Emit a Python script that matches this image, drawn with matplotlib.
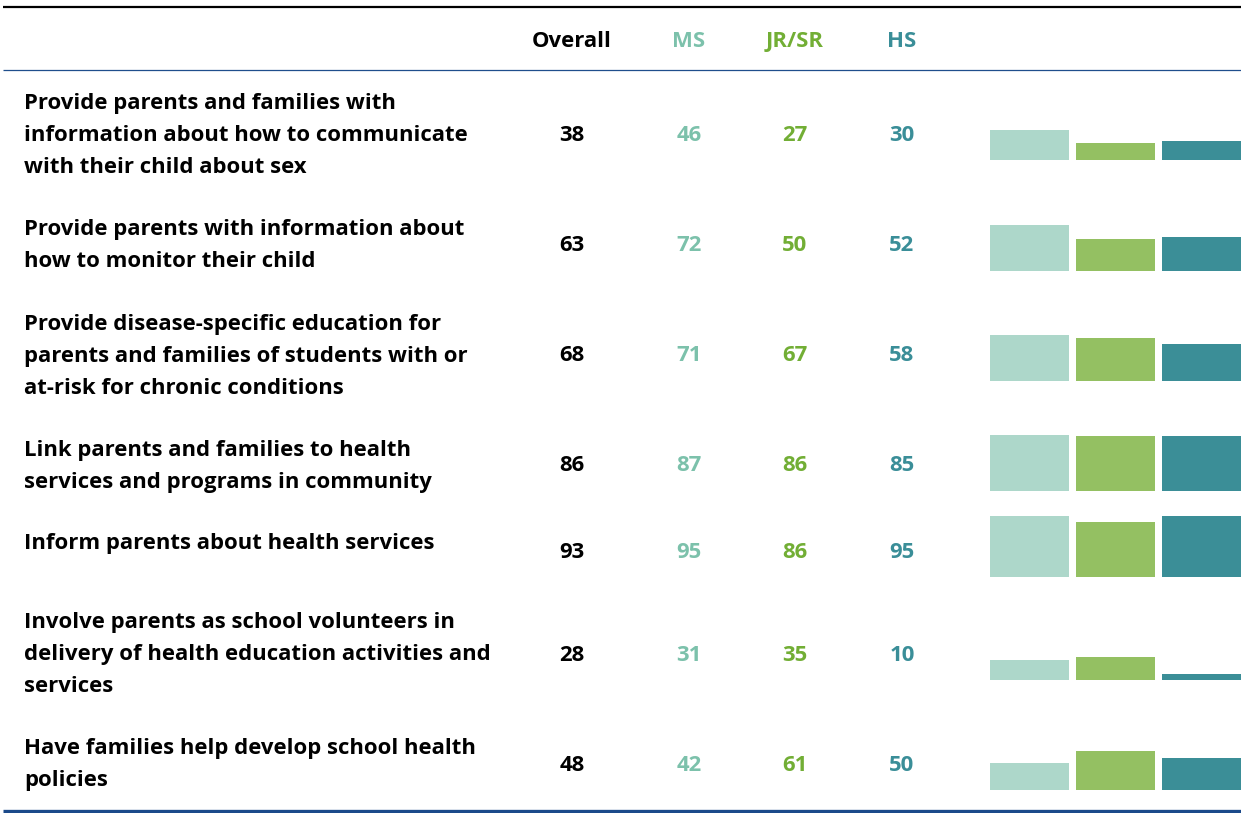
import matplotlib
matplotlib.use("Agg")
import matplotlib.pyplot as plt
import numpy as np

# row labels (one list of lines per row)
labels = [
    ["Provide parents and families with", "information about how to communicate", "with their child about sex"],
    ["Provide parents with information about", "how to monitor their child"],
    ["Provide disease-specific education for", "parents and families of students with or", "at-risk for chronic conditions"],
    ["Link parents and families to health", "services and programs in community"],
    ["Inform parents about health services"],
    ["Involve parents as school volunteers in", "delivery of health education activities and", "services"],
    ["Have families help develop school health", "policies"],
]
columns = ["Overall", "MS", "JR/SR", "HS"]
overall = [38, 63, 68, 86, 93, 28, 48]
ms = [46, 72, 71, 87, 95, 31, 42]
jrsr = [27, 50, 67, 86, 86, 35, 61]
hs = [30, 52, 58, 85, 95, 10, 50]

# layout (pixel coords of a 1241x813 canvas)
W, H = 1241, 813
first_line_y = [102, 228, 323, 449, 542, 621, 747]
number_y = [134, 244, 354, 464, 551, 654, 764]
bar_base_y = [160, 271, 381, 491, 577, 680, 790]
col_x = [572, 689, 795, 902]
bar_x = [1029.5, 1115.5, 1201.5]
bar_w = 79
px_per_unit = 0.645
line_gap = 32
dy = 1.5  # small baseline nudge

text_cols = ["black", "#7cc1ab", "#72ae35", "#3a8e98"]
bar_cols = ["#add7ca", "#94c062", "#3b8e97"]

fnt = "Open Sans"
fs = 15.9

fig = plt.figure(figsize=(W / 100, H / 100), dpi=100)
ax = fig.add_axes([0, 0, 1, 1])
ax.set_xlim(0, W)
ax.set_ylim(H, 0)
ax.axis("off")

# rules
ax.plot([3, W], [7, 7], color="black", lw=1.6, solid_capstyle="butt")
ax.plot([3, W], [70, 70], color="#1f4e8c", lw=0.9, solid_capstyle="butt")
ax.plot([3, W], [811, 811], color="#1b4a8a", lw=2.4, solid_capstyle="butt")

# header
for x, name, c in zip(col_x, columns, text_cols):
    ax.text(x, 40 + dy, name, ha="center", va="center", color=c,
            fontsize=fs, fontweight="bold", family=fnt)

series = [overall, ms, jrsr, hs]
for i, lines in enumerate(labels):
    for j, ln in enumerate(lines):
        ax.text(24, first_line_y[i] + j * line_gap + dy, ln, ha="left", va="center",
                fontsize=fs, fontweight="bold", family=fnt, color="black")
    for x, s, c in zip(col_x, series, text_cols):
        ax.text(x, number_y[i] + dy, str(s[i]), ha="center", va="center", color=c,
                fontsize=fs, fontweight="bold", family=fnt)

# mini bars
for k, (s, c) in enumerate(zip(series[1:], bar_cols)):
    vals = np.array(s) * px_per_unit
    ax.bar([bar_x[k]] * len(vals), -vals, width=bar_w, bottom=bar_base_y,
           color=c, linewidth=0)

fig.savefig("out.png", dpi=100)
